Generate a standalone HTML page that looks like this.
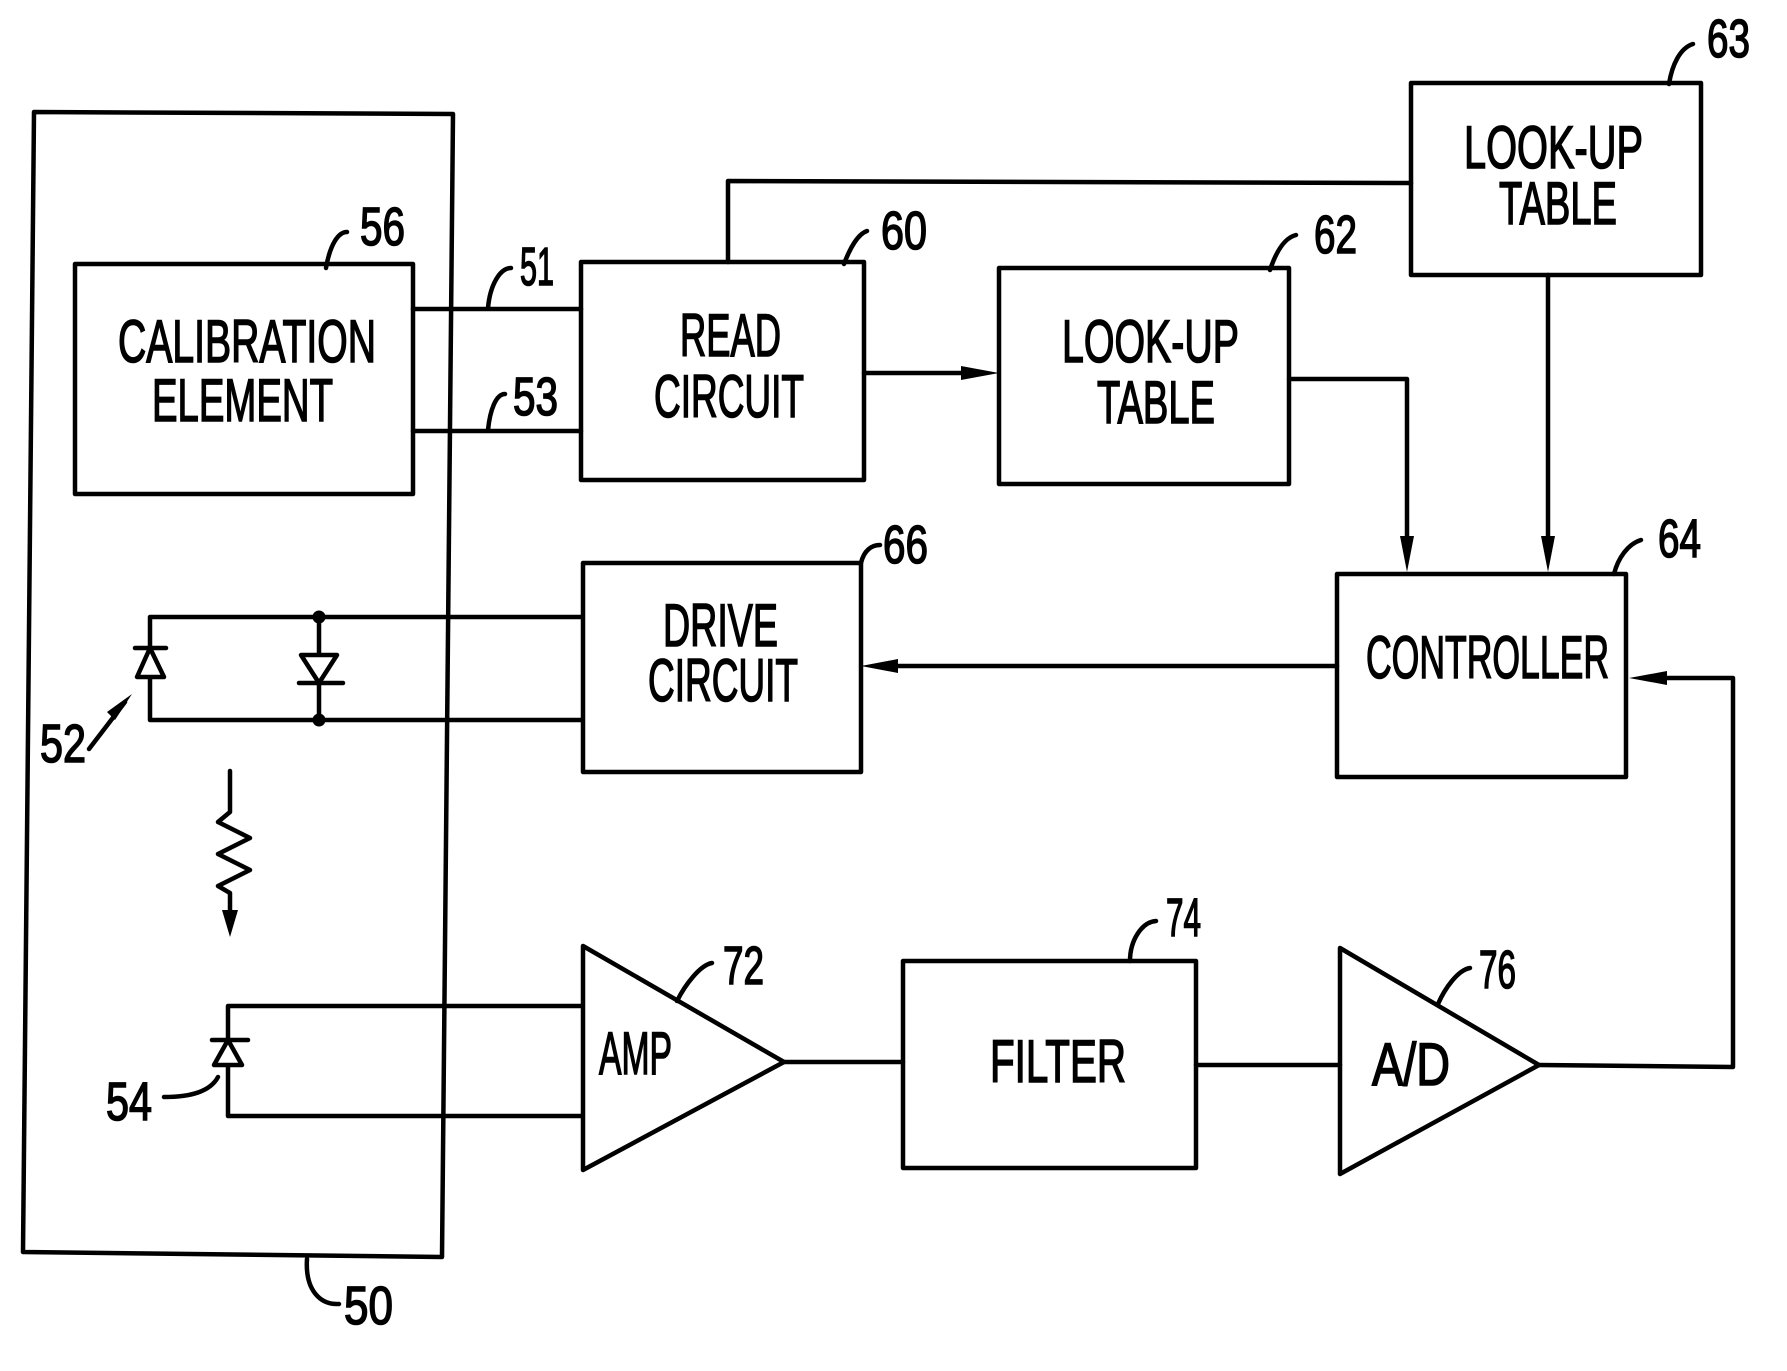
<!DOCTYPE html>
<html><head><meta charset="utf-8"><style>
html,body{margin:0;padding:0;background:#fff;}
svg{display:block;}
text{font-family:"Liberation Sans",sans-serif;fill:#000;stroke:#000;stroke-width:1.6px;}
.t{font-size:60px;}
.n{font-size:54px;}
</style></head><body>
<svg width="1787" height="1371" viewBox="0 0 1787 1371" xmlns="http://www.w3.org/2000/svg">
<g fill="none" stroke="#000" stroke-width="4.5" stroke-linejoin="round" stroke-linecap="round">
<path d="M34,112 L453,114 L442,1257 L23,1252 Z"/>
<path d="M307,1259 C305,1290 320,1305 339,1304"/>
<rect x="75" y="264" width="338" height="230"/>
<path d="M326,268 C330,245 338,232 347,232"/>
<line x1="413" y1="309" x2="581" y2="309"/>
<line x1="413" y1="431" x2="581" y2="431"/>
<path d="M488,308 C490,285 500,268 511,268"/>
<path d="M488,430 C490,410 496,394 505,394"/>
<rect x="581" y="262" width="283" height="218"/>
<path d="M844,264 C850,248 858,234 867,231"/>
<polyline points="728,262 728,181 1411,183"/>
<rect x="1411" y="83" width="290" height="192"/>
<path d="M1669,84 C1672,65 1680,48 1693,44"/>
<line x1="864" y1="373" x2="965" y2="373"/>
<rect x="999" y="268" width="290" height="216"/>
<path d="M1270,270 C1276,252 1284,238 1296,235"/>
<polyline points="1289,379 1407,379 1407,545"/>
<line x1="1548" y1="275" x2="1548" y2="545"/>
<rect x="1337" y="574" width="289" height="203"/>
<path d="M1614,574 C1618,558 1628,544 1641,540"/>
<line x1="1337" y1="666" x2="885" y2="666"/>
<polyline points="1539,1065 1733,1067 1733,678 1660,678"/>
<rect x="583" y="563" width="278" height="209"/>
<path d="M861,563 C864,550 872,545 880,545"/>
<polyline points="581,617 150,617 150,720 581,720"/>
<line x1="319" y1="617" x2="319" y2="720"/>
<line x1="135" y1="648" x2="166" y2="648"/>
<path d="M150,648 L137,677 L164,677 Z" fill="#fff"/>
<path d="M301,655 L337,655 L319,683 Z" fill="#fff"/>
<line x1="299" y1="683" x2="343" y2="683"/>
<line x1="89" y1="749" x2="125" y2="702"/>
<polyline points="230,771 230,812 218,822 250,838 218,854 250,870 218,886 230,893 230,920"/>
<polyline points="581,1006 228,1006 228,1116 581,1116"/>
<line x1="212" y1="1040" x2="248" y2="1040"/>
<path d="M228,1040 L214,1065 L242,1065 Z" fill="#fff"/>
<path d="M164,1097 C190,1097 210,1092 218,1077"/>
<path d="M583,946 L784,1062 L583,1170 Z"/>
<path d="M677,1001 C685,985 700,965 712,963"/>
<line x1="784" y1="1062" x2="903" y2="1062"/>
<rect x="903" y="961" width="293" height="207"/>
<path d="M1130,961 C1130,940 1142,922 1156,921"/>
<line x1="1196" y1="1065" x2="1340" y2="1065"/>
<path d="M1340,948 L1539,1065 L1340,1174 Z"/>
<path d="M1438,1004 C1445,988 1458,970 1470,968"/>
</g>
<g fill="#000" stroke="none">
<circle cx="319" cy="617" r="6.5"/><circle cx="319" cy="720" r="6.5"/>
<path d="M999,373 L961,366 L961,380 Z"/>
<path d="M1407,572 L1400,536 L1414,536 Z"/>
<path d="M1548,572 L1541,536 L1555,536 Z"/>
<path d="M861,666 L898,659 L898,673 Z"/>
<path d="M1629,678 L1667,671 L1667,685 Z"/>
<path d="M230,937 L222,910 L238,910 Z"/>
<path d="M132,694 L115,720 L107,712 Z"/>
</g>
<text class="t" x="118" y="362" textLength="258" lengthAdjust="spacingAndGlyphs">CALIBRATION</text>
<text class="t" x="152" y="421" textLength="181" lengthAdjust="spacingAndGlyphs">ELEMENT</text>
<text class="t" x="680" y="356" textLength="101" lengthAdjust="spacingAndGlyphs">READ</text>
<text class="t" x="654" y="417" textLength="150" lengthAdjust="spacingAndGlyphs">CIRCUIT</text>
<text class="t" x="1464" y="168" textLength="179" lengthAdjust="spacingAndGlyphs">LOOK-UP</text>
<text class="t" x="1499" y="224" textLength="118" lengthAdjust="spacingAndGlyphs">TABLE</text>
<text class="t" x="1062" y="362" textLength="177" lengthAdjust="spacingAndGlyphs">LOOK-UP</text>
<text class="t" x="1097" y="423" textLength="118" lengthAdjust="spacingAndGlyphs">TABLE</text>
<text class="t" x="663" y="646" textLength="115" lengthAdjust="spacingAndGlyphs">DRIVE</text>
<text class="t" x="648" y="701" textLength="150" lengthAdjust="spacingAndGlyphs">CIRCUIT</text>
<text class="t" x="1366" y="678" textLength="243" lengthAdjust="spacingAndGlyphs">CONTROLLER</text>
<text class="t" x="599" y="1074" textLength="73" lengthAdjust="spacingAndGlyphs">AMP</text>
<text class="t" x="990" y="1082" textLength="136" lengthAdjust="spacingAndGlyphs">FILTER</text>
<text class="t" x="1372" y="1085" textLength="78" lengthAdjust="spacingAndGlyphs">A/D</text>
<text class="n" x="360" y="245" textLength="45" lengthAdjust="spacingAndGlyphs">56</text>
<text class="n" x="520" y="285" textLength="34" lengthAdjust="spacingAndGlyphs">51</text>
<text class="n" x="513" y="415" textLength="45" lengthAdjust="spacingAndGlyphs">53</text>
<text class="n" x="881" y="249" textLength="46" lengthAdjust="spacingAndGlyphs">60</text>
<text class="n" x="1314" y="253" textLength="43" lengthAdjust="spacingAndGlyphs">62</text>
<text class="n" x="1707" y="57" textLength="43" lengthAdjust="spacingAndGlyphs">63</text>
<text class="n" x="1658" y="557" textLength="43" lengthAdjust="spacingAndGlyphs">64</text>
<text class="n" x="883" y="563" textLength="45" lengthAdjust="spacingAndGlyphs">66</text>
<text class="n" x="40" y="762" textLength="46" lengthAdjust="spacingAndGlyphs">52</text>
<text class="n" x="106" y="1120" textLength="46" lengthAdjust="spacingAndGlyphs">54</text>
<text class="n" x="344" y="1324" textLength="49" lengthAdjust="spacingAndGlyphs">50</text>
<text class="n" x="723" y="984" textLength="41" lengthAdjust="spacingAndGlyphs">72</text>
<text class="n" x="1166" y="936" textLength="35" lengthAdjust="spacingAndGlyphs">74</text>
<text class="n" x="1479" y="988" textLength="37" lengthAdjust="spacingAndGlyphs">76</text>
</svg>
</body></html>
